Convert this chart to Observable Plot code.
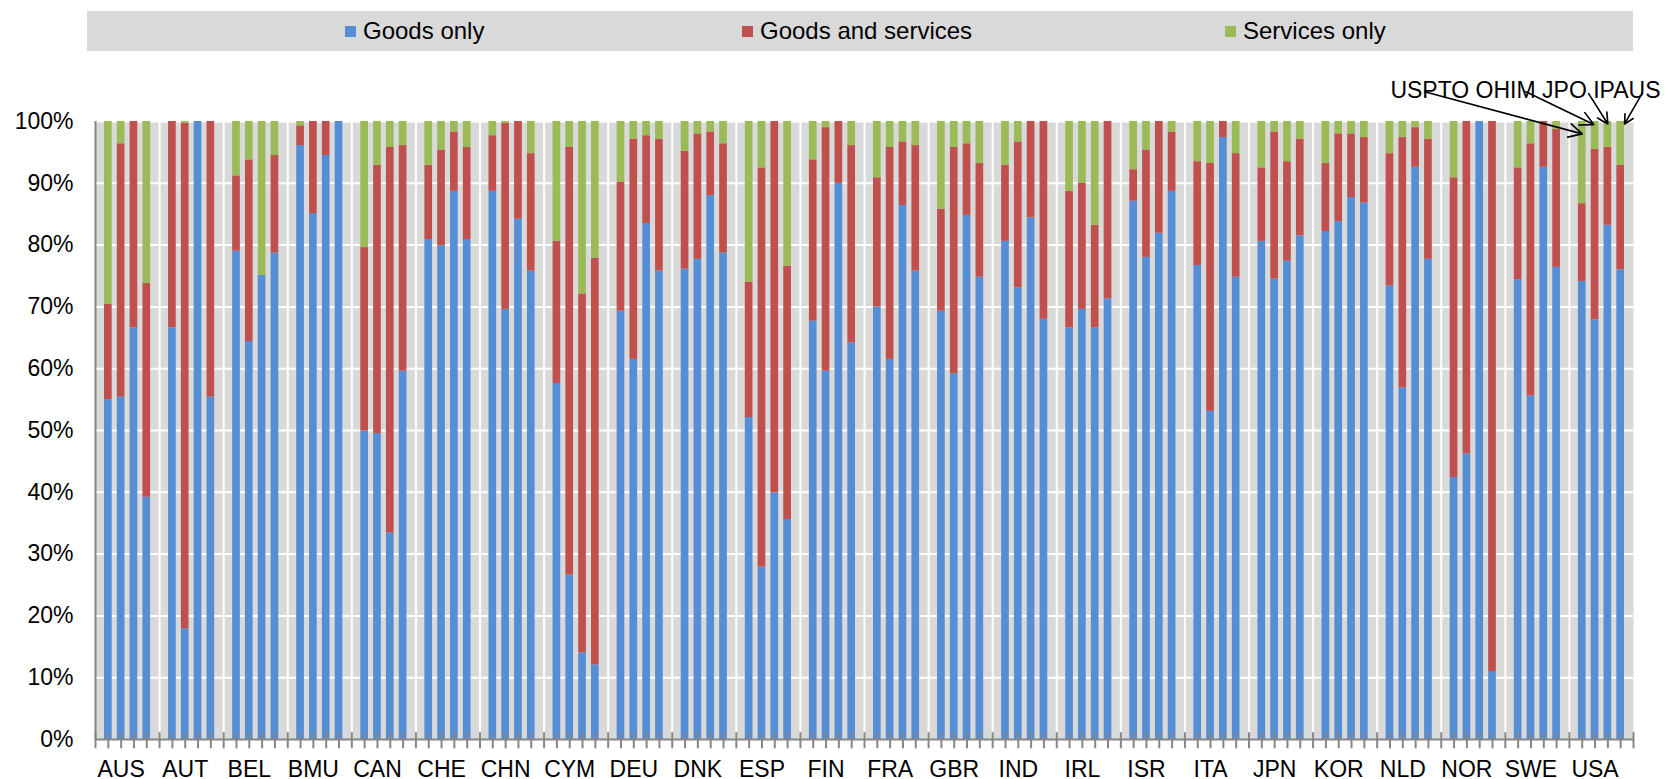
<!DOCTYPE html>
<html><head><meta charset="utf-8">
<script src="https://cdn.jsdelivr.net/npm/d3@7"></script>
<script src="https://cdn.jsdelivr.net/npm/@observablehq/plot@0.6"></script>
<style>
body{margin:0;background:#fff;font-family:"Liberation Sans",Arial,sans-serif;}
#legend{position:relative;margin:11px 0 0 87px;width:1546px;height:40px;background:#d9d9d9;}
.item{position:absolute;top:0;height:40px;display:flex;align-items:center;font-size:24px;color:#000;white-space:nowrap;}
.sw{width:11px;height:11px;margin-right:7px;}
</style></head><body>
<div id="legend"></div>
<div id="chart"></div>
<script>
const countries = ["AUS","AUT","BEL","BMU","CAN","CHE","CHN","CYM","DEU","DNK","ESP","FIN","FRA","GBR","IND","IRL","ISR","ITA","JPN","KOR","NLD","NOR","SWE","USA"];
const offices = ["USPTO","OHIM","JPO","IPAUS"];
const categories = ["Goods only","Goods and services","Services only"];
const colors = ["#558ED5","#C0504D","#9BBB59"];
const yTicks = [0,10,20,30,40,50,60,70,80,90,100];

// shares in %, one row per country, columns = offices (USPTO, OHIM, JPO, IPAUS)
const goodsOnly = [
  [55.0,55.4,66.6,39.2],[66.6,17.9,100,55.4],[79.0,64.4,75.1,78.7],[96.1,85.1,94.5,100],
  [49.9,49.5,33.4,59.6],[80.9,79.9,88.7,80.9],[88.7,69.6,84.2,75.8],[57.6,26.6,14.0,12.1],
  [69.3,61.5,83.5,75.8],[76.1,77.7,88.0,78.7],[52.1,27.9,39.9,35.6],[67.7,59.6,90.0,64.2],
  [70.0,61.5,86.4,75.8],[69.3,59.2,84.8,74.8],[80.6,73.1,84.4,68.0],[66.6,69.6,66.6,71.3],
  [87.1,78.0,81.9,88.7],[76.7,53.1,97.4,74.8],[80.6,74.5,77.4,81.5],[82.2,83.8,87.7,86.8],
  [73.4,56.9,92.6,77.7],[42.4,46.2,100,11.0],[74.4,55.6,92.6,76.4],[74.1,67.9,83.2,76.0]
];
const goodsAndServices = [
  [15.4,41.0,33.4,34.6],[33.4,81.8,0,44.6],[12.2,29.4,0,15.8],[3.2,14.9,5.5,0],
  [29.7,43.4,62.4,36.5],[12.0,15.5,9.6,14.9],[9.0,30.1,15.8,19.0],[23.0,69.2,58.1,65.8],
  [20.9,35.6,14.2,21.3],[19.1,20.3,10.3,17.7],[21.9,64.6,60.1,41.0],[26.1,39.4,10.0,31.9],
  [20.9,34.3,10.3,20.3],[16.5,36.6,11.6,18.4],[12.3,23.6,15.6,32.0],[22.1,20.4,16.6,28.7],
  [5.1,17.4,18.1,9.6],[16.8,40.1,2.6,20.0],[11.9,23.8,16.1,15.6],[11.0,14.2,10.3,10.6],
  [21.4,40.5,6.4,19.4],[48.5,53.8,0,89.0],[18.1,40.8,7.4,22.3],[12.6,27.6,12.6,16.9]
];
const servicesOnly = [
  [29.6,3.6,0,26.2],[0,0.3,0,0],[8.8,6.2,24.9,5.5],[0.7,0,0,0],
  [20.4,7.1,4.2,3.9],[7.1,4.6,1.7,4.2],[2.3,0.3,0,5.2],[19.4,4.2,27.9,22.1],
  [9.8,2.9,2.3,2.9],[4.8,2.0,1.7,3.6],[26.0,7.5,0,23.4],[6.2,1.0,0,3.9],
  [9.1,4.2,3.3,3.9],[14.2,4.2,3.6,6.8],[7.1,3.3,0,0],[11.3,10.0,16.8,0],
  [7.8,4.6,0,1.7],[6.5,6.8,0,5.2],[7.5,1.7,6.5,2.9],[6.8,2.0,2.0,2.6],
  [5.2,2.6,1.0,2.9],[9.1,0,0,0],[7.5,3.6,0,1.3],[13.3,4.5,4.2,7.1]
];

// legend
const legendLeft = [258, 655, 1138];
const legend = document.getElementById("legend");
categories.forEach((c, i) => {
  const it = document.createElement("div");
  it.className = "item";
  it.style.left = legendLeft[i] + "px";
  it.innerHTML = `<span class="sw" style="background:${colors[i]}"></span><span>${c}</span>`;
  legend.appendChild(it);
});

// slots: 5 per country (4 offices + gap)
const slot = 5;
const rows = [];
countries.forEach((c, ci) => offices.forEach((o, oi) => {
  let base = 0;
  [goodsOnly, goodsAndServices, servicesOnly].forEach((arr, k) => {
    const v = arr[ci][oi];
    rows.push({country: c, office: o, type: categories[k], pos: ci * slot + oi + 1, y1: base, y2: base + v});
    base += v;
  });
}));
const nSlots = countries.length * slot;

// annotation arrows for the USA group
const usa = countries.indexOf("USA");
const arrowRows = offices.map((o, oi) => ({office: o, pos: usa * slot + oi + 1}));
const arrowStartDx = [-12.3, -5.4, -1.5, 1.5];
const arrowStartY = [104.8, 104.8, 104.5, 103.9];
const arrowEndDx = [0, -0.1, 0, 0.3];
const arrowEndY = [98.0, 99.5, 99.6, 99.6];

const axisGray = "#868686";
const chart = Plot.plot({
  width: 1668,
  height: 728,
  marginLeft: 95,
  marginRight: 35,
  marginTop: 70,
  marginBottom: 40,
  style: {fontFamily: "Liberation Sans, Arial, sans-serif", fontSize: "23px", color: "#000", background: "#fff", overflow: "visible"},
  x: {type: "linear", domain: [0, nSlots], axis: null},
  y: {domain: [0, 100], axis: null},
  color: {domain: categories, range: colors},
  marks: [
    Plot.frame({fill: "#d9d9d9", stroke: "none"}),
    Plot.ruleY(yTicks.filter(d => d > 0), {stroke: "#fff", strokeWidth: 2}),
    Plot.ruleX(d3.range(slot, nSlots, slot), {stroke: "#fff", strokeWidth: 2}),
    Plot.rect(rows, {x1: d => d.pos - 0.3, x2: d => d.pos + 0.3, y1: "y1", y2: "y2", fill: "type"}),
    Plot.ruleX(d3.range(0, nSlots + 1), {y1: -1.5, y2: 1.1, stroke: axisGray, strokeWidth: 2}),
    Plot.ruleX([0], {stroke: axisGray, strokeWidth: 2}),
    Plot.ruleY([0], {stroke: axisGray, strokeWidth: 2}),
    Plot.axisY(yTicks, {tickSize: 0, tickPadding: 22, tickFormat: d => d + "%", fontSize: 23, label: null}),
    Plot.axisX(countries.map((c, i) => i * slot + 2), {tickSize: 0, tickPadding: 21, tickFormat: d => countries[Math.round((d - 2) / slot)], fontSize: 23, label: null}),
    Plot.text([offices.join(" ")], {frameAnchor: "top-right", dx: 27, dy: -40, textAnchor: "end", fontSize: 23}),
    Plot.arrow(arrowRows, {
      x1: (d, i) => d.pos + arrowStartDx[i], y1: (d, i) => arrowStartY[i],
      x2: (d, i) => d.pos + arrowEndDx[i], y2: (d, i) => arrowEndY[i],
      stroke: "#000", strokeWidth: 1.6, headLength: 14, headAngle: 55
    })
  ]
});
document.getElementById("chart").appendChild(chart);
</script>
</body></html>
